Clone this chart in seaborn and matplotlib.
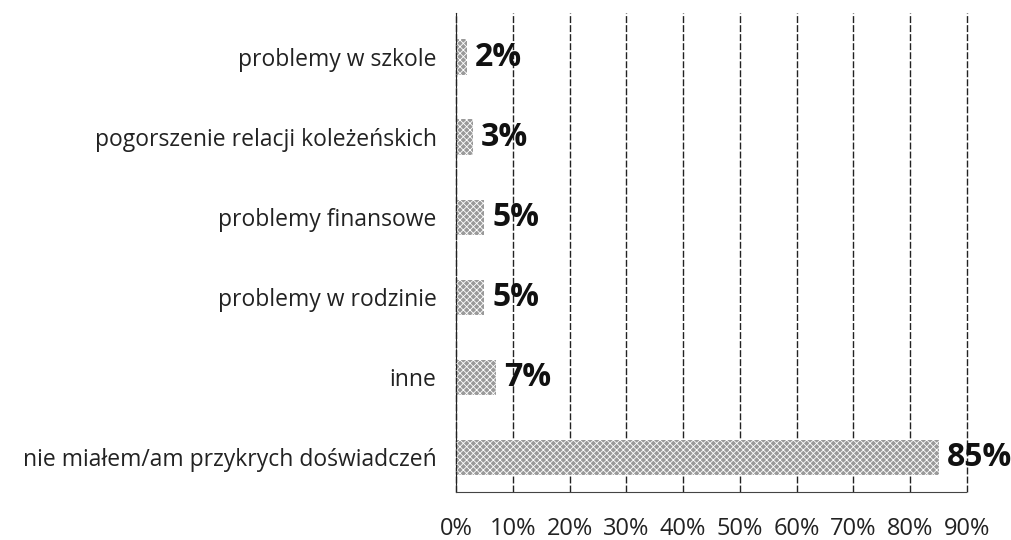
import matplotlib
matplotlib.use("Agg")
import matplotlib.pyplot as plt
import seaborn as sns
import pandas as pd
from matplotlib.ticker import FuncFormatter

categories = [
    "problemy w szkole",
    "pogorszenie relacji koleżeńskich",
    "problemy finansowe",
    "problemy w rodzinie",
    "inne",
    "nie miałem/am przykrych doświadczeń",
]
values = [2, 3, 5, 5, 7, 85]
x_ticks = [0, 10, 20, 30, 40, 50, 60, 70, 80, 90]

df = pd.DataFrame({"kategoria": categories, "procent": values})

sns.set_style("white")
plt.rcParams["font.family"] = ["Open Sans", "DejaVu Sans"]
plt.rcParams["hatch.color"] = "#3c3c3c"
plt.rcParams["hatch.linewidth"] = 0.6

fig = plt.figure(figsize=(10.12, 5.4), dpi=100)
ax = fig.add_axes([0.4506, 0.089, 0.5049, 0.887])

sns.barplot(data=df, x="procent", y="kategoria", orient="h", color="#9a9a9a",
            width=0.44, ax=ax, saturation=1, linewidth=0)
for p in ax.patches:
    p.set_hatch("xxxxx")

ax.set_xlim(0, 90)
ax.set_ylim(5.43, -0.55)
ax.set_xticks(x_ticks)
ax.xaxis.set_major_formatter(FuncFormatter(lambda v, _: f"{int(v)}%"))
ax.set_xlabel("")
ax.set_ylabel("")

ax.grid(axis="x", color="#222222", linestyle=(0, (5, 1.5)), linewidth=1.0)
for gl in ax.get_xgridlines():
    gl.set_clip_on(False)
ax.set_axisbelow(True)
for side in ["top", "right"]:
    ax.spines[side].set_visible(False)
ax.spines["left"].set_color("#222222")
ax.spines["left"].set_linestyle((0, (5, 1.5)))
ax.spines["bottom"].set_color("#444444")
ax.spines["bottom"].set_linestyle((0, (1, 1)))

ax.tick_params(axis="x", length=0, labelsize=17, pad=18, colors="#222222")
ax.tick_params(axis="y", length=0, labelsize=16.5, pad=14, colors="#222222")

for i, v in enumerate(values):
    ax.text(v + 1.4, i, f"{v}%", va="center", ha="left",
            fontsize=23, fontweight="bold", color="#111111")

fig.savefig("out.png", dpi=100)
